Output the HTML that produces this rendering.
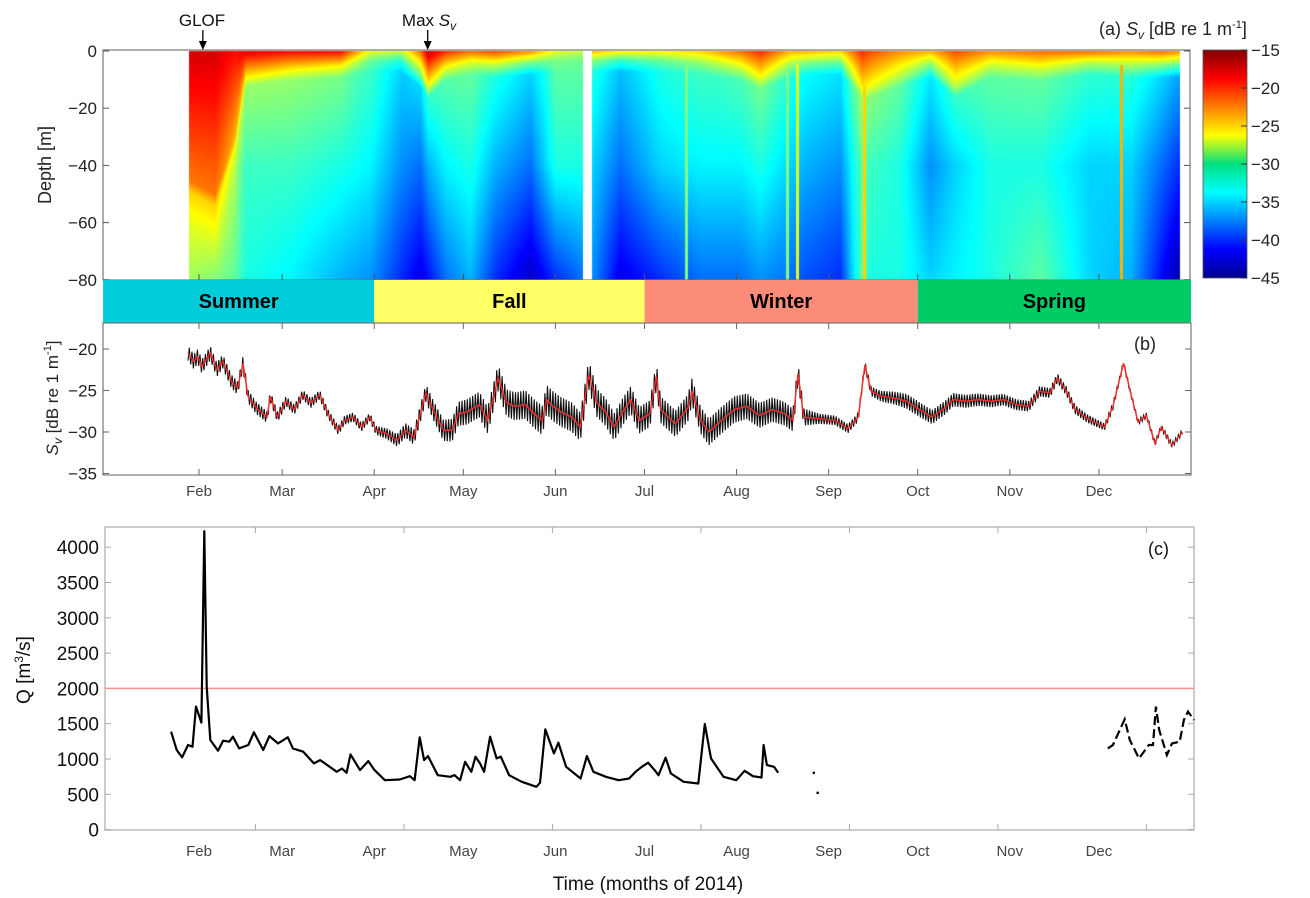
<!DOCTYPE html>
<html><head><meta charset="utf-8">
<style>
html,body{margin:0;padding:0;background:#fff;}
#wrap{position:relative;width:1310px;height:898px;overflow:hidden;font-family:"Liberation Sans",sans-serif;}
canvas,svg{position:absolute;left:0;top:0;}
</style></head>
<body>
<div id="wrap">
<canvas id="hm" width="1310" height="898"></canvas>
<svg id="sv" width="1310" height="898" xmlns="http://www.w3.org/2000/svg">
<defs>
<linearGradient id="jet" x1="0" y1="1" x2="0" y2="0">
<stop offset="0" stop-color="#00008f"/><stop offset="0.125" stop-color="#0000ff"/>
<stop offset="0.375" stop-color="#00ffff"/><stop offset="0.5" stop-color="#00e080"/><stop offset="0.625" stop-color="#ffff00"/>
<stop offset="0.875" stop-color="#ff0000"/><stop offset="1" stop-color="#800000"/>
</linearGradient>
</defs>
</svg>
</div>
<script>
// ---------- data ----------
const monthNames=["Feb","Mar","Apr","May","Jun","Jul","Aug","Sep","Oct","Nov","Dec"];
const monthDays=[31,59,90,120,151,181,212,243,273,304,334];
const seasonNames=["Summer","Fall","Winter","Spring"];
const seasonStart=[-1.3,90,181,273];
const seasonEnd=[90,181,273,365];
const seasonColors=["#00cdd9","#ffff66","#fa8c78","#00cc66"];

// heatmap keyframes (day, surface Sv, surface-layer depth m, mid-depth Sv, bottom Sv)
const hmDays=[27.3,36.4,43,46.5,61.6,78.5,88.6,98.7,105.4,108,113.8,122.2,130.7,142.5,150.9,160,163.3,172.7,186.2,199.7,213.2,219.9,230,235,246.8,254.2,256.9,267,277.1,285.5,297.3,314.2,331,344.5,354.6,361.3];
const hmTop=[-17.5,-17.5,-19,-18,-19,-19,-27,-28,-22,-17,-20,-22,-21,-23,-27,-28,-24,-26,-26,-25,-22,-20,-24,-24,-25,-20,-21,-23,-24,-21,-23,-22,-22,-23,-22,-23];
const hmTopDepth=[45,50,30,8,6,5,3,3,8,12,6,4,5,4,3,3,3,3,3,4,6,9,5,4,4,12,12,8,5,12,5,6,4,5,5,5];
const hmMid=[-27,-27,-29,-32,-32,-33,-34,-37,-38,-36,-34,-33,-36,-38,-33,-33,-35,-38,-35,-34,-34,-33,-35,-36,-37,-31,-32,-33,-37,-35,-33,-33,-35,-35,-38,-40];
const hmBot=[-29,-30,-31,-33,-34,-36,-37,-40,-42,-41,-38,-36,-40,-43,-40,-38,-37,-42,-40,-38,-38,-37,-38,-39,-40,-31,-33,-33,-35,-34,-33,-31,-35,-36,-41,-44];
const gapStart=160.2, gapEnd=163;
const streakDays=[195,229,232.3,255,341.5];
const streakVals=[-30,-30,-27,-25,-24];

// Sv time series (red = smoothed)
const svDays=[27.3,29.2,30.6,32,34.8,37,39,41.9,44,45.8,47.5,50.3,53.9,55,57.4,60.3,63.1,65.9,68.7,71.6,74.4,77.9,80,82.9,85.7,88.5,90.6,94.2,97.7,100.5,103.4,105.5,107.4,109.8,113.3,116.2,118.3,121.1,125.4,128.2,131.7,134.6,137.4,140.9,143.8,146.6,148,150.2,153,156.5,159.4,162.2,165,167.9,170.8,173.6,176.4,179.2,182.8,185,186.4,191.4,195.6,197,199.9,202.7,206.9,211.2,215.5,219.7,224,228.2,231,232.7,234.6,239.6,245.2,249.5,253,255.2,257.3,260.8,265,269.3,273.6,277.8,282.1,284.9,289.2,293.4,297.7,301.9,306.1,310.4,314,317.5,320,323.1,326,330.2,335.9,338.7,342.3,344.4,347.2,350,352.9,355,358.6,362.1];
const svVals=[-20.5,-21.5,-20.9,-22.1,-20.5,-22.5,-21.5,-23.9,-24.7,-21.7,-25.7,-27.1,-28.2,-25.7,-28.2,-26.3,-27.3,-25.5,-26.5,-25.5,-27.8,-29.8,-28.6,-28.2,-29.4,-28.2,-29.8,-30.2,-31,-29.8,-30.6,-27.8,-25.3,-27.3,-29.8,-29.8,-27.8,-27.6,-26.7,-28.6,-23.5,-26.5,-26.9,-26.7,-27.8,-28.6,-26.1,-26.9,-27.6,-28.2,-29.4,-23.1,-26.5,-27.6,-29.4,-27.6,-26.1,-28.6,-27.8,-23.3,-27.3,-29,-27.1,-25.1,-28.6,-30,-28.6,-27.3,-26.9,-28,-27.3,-27.8,-28.6,-22.9,-28.2,-28.4,-28.6,-29.6,-28.2,-21.9,-25.1,-25.7,-25.9,-26.3,-27.3,-28.2,-27.1,-26.1,-26.3,-26.1,-26.3,-26.1,-26.7,-26.9,-25.1,-25.3,-23.5,-25.1,-27.3,-28.4,-29.4,-26.9,-21.7,-24.9,-28.8,-28,-31.4,-29.4,-31.6,-30];
// half-range of raw (black) variability
const ampDays=[27,45,60,90,105,120,150,180,210,230,240,255,270,300,330,345,365];
const ampVals=[0.9,0.8,0.6,0.5,1.0,1.5,1.8,1.6,1.6,1.4,0.6,0.5,0.9,0.7,0.5,0.3,0.3];

// discharge Q
const qDays=[21.6,23.5,25.3,27.3,28.8,30,31.8,32.8,33.6,34.8,37.4,39.1,41.2,42.4,44.5,47.6,49.5,52.6,54.7,57.6,60.9,62.6,66.1,69.7,71.8,77.4,79.1,80.7,82,85.2,88,90.1,93.6,98.6,102,103.6,105.3,106.8,108.1,111.4,115.6,117,118.9,120.6,122.7,124.1,125.6,127,129,131.2,132.6,135.4,139.7,144.6,145.8,147.6,150.5,152,154.6,159.5,161.6,163.8,168,172.3,175.8,178,180.1,182.2,184.4,185.7,188.1,189.9,194.2,199.1,201.3,203.4,207.6,211.9,214.7,217.5,220.4,221.1,222.2,224.6,226];
const qVals=[1387,1127,1022,1198,1174,1742,1515,4227,2026,1269,1117,1259,1245,1316,1150,1198,1378,1127,1325,1221,1307,1150,1103,937,985,819,866,805,1065,843,970,843,700,710,757,700,1307,985,1041,771,748,772,700,961,819,1032,937,819,1316,1008,1032,771,677,606,663,1420,1079,1231,890,724,1041,819,748,700,724,819,890,947,843,771,1018,795,677,653,1496,1008,748,700,833,757,738,1198,914,890,805];
const qDotDays=[238,239.3];
const qDotVals=[805,521];
const qDecDays=[337,338.7,342.7,344.4,347.5,350.8,352.2,353.2,354.3,356.9,358.6,361.2,362.6,364,366];
const qDecVals=[1150,1198,1562,1269,1008,1198,1198,1742,1411,1056,1221,1245,1553,1671,1553];
const qTicks=[0,500,1000,1500,2000,2500,3000,3500,4000];
const qTickDays=[50,100,150,200,250,300,350];
const svTicks=[-20,-25,-30,-35];
const depthTicks=[0,-20,-40,-60,-80];
const cbTicks=[-15,-20,-25,-30,-35,-40,-45];
const threshold=2000;

// ---------- scales ----------
const xOf=d=>199+(d-31)*2.97;
const yA=m=>51+(-m)*2.86;
const yB=v=>349+(-20-v)*8.3;
const yC=q=>829.6-q*0.0706;
const yCb=v=>50+(-15-v)/30*228;

function interp(xs,ys,x){
  if(x<=xs[0])return ys[0];
  for(let i=1;i<xs.length;i++){ if(x<=xs[i]){const t=(x-xs[i-1])/(xs[i]-xs[i-1]);return ys[i-1]+t*(ys[i]-ys[i-1]);} }
  return ys[ys.length-1];
}
const NS="http://www.w3.org/2000/svg";
const svg=document.getElementById('sv');
function el(tag,attrs,parent){const e=document.createElementNS(NS,tag);for(const k in attrs)e.setAttribute(k,attrs[k]);(parent||svg).appendChild(e);return e;}
function txt(s,attrs,parent){const e=el('text',attrs,parent);e.textContent=s;return e;}

// ---------- heatmap ----------
(function(){
  const c=document.getElementById('hm').getContext('2d');
  const x0=Math.ceil(xOf(hmDays[0])), x1=Math.floor(xOf(hmDays[hmDays.length-1]));
  const yt=51,yb=280;
  const img=c.createImageData(x1-x0+1,yb-yt);
  function jet(v){let t=(v+45)/30;t=Math.max(0,Math.min(1,t));
    const cl=a=>Math.max(0,Math.min(1,a));
    return [cl(1.5-Math.abs(4*t-3))*255,cl(1.5-Math.abs(4*t-2))*255,cl(1.5-Math.abs(4*t-1))*255];}
  for(let x=x0;x<=x1;x++){
    const d=31+(x-199)/2.97;
    if(d>gapStart&&d<gapEnd)continue;
    const top=interp(hmDays,hmTop,d),td=interp(hmDays,hmTopDepth,d),mid=interp(hmDays,hmMid,d),bot=interp(hmDays,hmBot,d);
    let sv=null;
    for(let k=0;k<streakDays.length;k++){if(Math.abs(xOf(streakDays[k])-x)<1.6)sv=streakVals[k];}
    const d1=td,d2=Math.min(74,td+4),d3=Math.min(78,Math.max(40,td+15));
    const nodesD=[0,d1,d2,d3,80],nodesV=[top,top+(mid-top)*0.5,Math.max(mid+2,top+(mid-top)*0.8),mid,bot];
    for(let y=yt;y<yb;y++){
      const dep=(y-yt)/2.86;
      let v=interp(nodesD,nodesV,dep);
      if(sv!==null&&dep>td)v=Math.max(v,sv);
      const col=jet(v);const i=((y-yt)*img.width+(x-x0))*4;
      img.data[i]=col[0];img.data[i+1]=col[1];img.data[i+2]=col[2];img.data[i+3]=255;
    }
  }
  c.putImageData(img,x0,yt);
})();

// ---------- panel a axes ----------
const gA=el('g',{});


el('rect',{x:103,y:50,width:1087,height:230,fill:'none',stroke:'#777','stroke-width':1.2},gA);
depthTicks.forEach(t=>{
  el('line',{x1:103,x2:109,y1:yA(t),y2:yA(t),stroke:'#555'},gA);
  el('line',{x1:1184,x2:1190,y1:yA(t),y2:yA(t),stroke:'#555'},gA);
  const l=txt(t===0?'0':'\u2212'+(-t),{x:97,y:yA(t)+6,'font-size':17,'text-anchor':'end',fill:'#222'},gA);
  
  
});
monthDays.forEach(d=>{el('line',{x1:xOf(d),x2:xOf(d),y1:274,y2:280,stroke:'#555'},gA);});
const dl=txt('Depth [m]',{x:0,y:0,'font-size':18,'text-anchor':'middle',fill:'#222',transform:'translate(51,165) rotate(-90)'},gA);


[32.3,108].forEach(dd=>{
  const x=xOf(dd);
  el('line',{x1:x,x2:x,y1:30,y2:42,stroke:'#000','stroke-width':1.3},gA);
  el('path',{d:`M${x-4},41 L${x+4},41 L${x},50 Z`,fill:'#000'},gA);
});
const g1=txt('GLOF',{x:202,y:26,'font-size':17,'text-anchor':'middle',fill:'#111'},gA);


const m1=el('text',{x:429,y:26,'font-size':17,'text-anchor':'middle',fill:'#111'},gA);
m1.innerHTML='Max <tspan font-style="italic">S</tspan><tspan font-size="12" dy="4" font-style="italic">v</tspan>';


const cb=el('rect',{x:1203,y:50,width:44,height:228,fill:'url(#jet)',stroke:'#555','stroke-width':0.8});


cbTicks.forEach(t=>{
  el('line',{x1:1241,x2:1247,y1:yCb(t),y2:yCb(t),stroke:'#333'});
  const l=txt('\u2212'+(-t),{x:1251,y:yCb(t)+6,'font-size':17,fill:'#222'});
  
  
});
const ct=el('text',{x:1099,y:35,'font-size':18,fill:'#222'});
ct.innerHTML='(a) <tspan font-style="italic">S</tspan><tspan font-size="12" dy="4" font-style="italic">v</tspan><tspan dy="-4"> [dB re 1 m</tspan><tspan font-size="11" dy="-7">-1</tspan><tspan dy="7">]</tspan>';



// ---------- season bar ----------
seasonNames.forEach((s,i)=>{
  const x=xOf(seasonStart[i]),w=xOf(seasonEnd[i])-x;
  const r=el('rect',{x:x,y:280,width:w,height:43,fill:seasonColors[i]});
  
  
  txt(s,{x:x+w/2,y:308,'font-size':20,'font-weight':'bold','text-anchor':'middle',fill:'#000'});
});

// ---------- panel b ----------
const gB=el('g',{});


el('rect',{x:103,y:323,width:1088,height:152,fill:'none',stroke:'#777','stroke-width':1.2},gB);
svTicks.forEach(t=>{
  el('line',{x1:103,x2:109,y1:yB(t),y2:yB(t),stroke:'#666'},gB);
  el('line',{x1:1185,x2:1191,y1:yB(t),y2:yB(t),stroke:'#666'},gB);
  txt('\u2212'+(-t),{x:97,y:yB(t)+6,'font-size':17,'text-anchor':'end',fill:'#222'},gB);
});
monthDays.forEach((d,i)=>{
  el('line',{x1:xOf(d),x2:xOf(d),y1:469,y2:475,stroke:'#666'},gB);
  el('line',{x1:xOf(d),x2:xOf(d),y1:323,y2:329,stroke:'#666'},gB);
  txt(monthNames[i],{x:xOf(d),y:496,'font-size':15,'text-anchor':'middle',fill:'#444'},gB);
});
(function(){
  let pts=[],k=0;
  for(let d=svDays[0];d<=svDays[svDays.length-1];d+=0.45,k++){
    const r=interp(svDays,svVals,d),a=interp(ampDays,ampVals,d);
    const v=r+(k%2?a:-a);
    pts.push(xOf(d).toFixed(1)+','+yB(v).toFixed(1));
  }
  const p=el('polyline',{points:pts.join(' '),fill:'none',stroke:'#111','stroke-width':1.1},gB);
  
  
})();
const redPts=svDays.map((d,i)=>xOf(d).toFixed(1)+','+yB(svVals[i]).toFixed(1)).join(' ');
const rl=el('polyline',{points:redPts,fill:'none',stroke:'#ff2a2a','stroke-width':1.4},gB);


txt('(b)',{x:1134,y:350,'font-size':18,fill:'#222'},gB);
const by=el('text',{x:0,y:0,'font-size':17,'text-anchor':'middle',fill:'#222',transform:'translate(58,398) rotate(-90)'},gB);
by.innerHTML='<tspan font-style="italic">S</tspan><tspan font-size="12" dy="4" font-style="italic">v</tspan><tspan dy="-4"> [dB re 1 m</tspan><tspan font-size="11" dy="-7">-1</tspan><tspan dy="7">]</tspan>';



// ---------- panel c ----------
const gC=el('g',{});


el('rect',{x:105,y:527,width:1089,height:303,fill:'none',stroke:'#bbb','stroke-width':1.5},gC);
qTicks.forEach(t=>{
  el('line',{x1:105,x2:111,y1:yC(t),y2:yC(t),stroke:'#aaa'},gC);
  el('line',{x1:1188,x2:1194,y1:yC(t),y2:yC(t),stroke:'#aaa'},gC);
  txt(String(t),{x:99,y:yC(t)+7,'font-size':19,'text-anchor':'end',fill:'#111'},gC);
});
qTickDays.forEach(d=>{
  el('line',{x1:xOf(d),x2:xOf(d),y1:824,y2:830,stroke:'#aaa'},gC);
  el('line',{x1:xOf(d),x2:xOf(d),y1:527,y2:533,stroke:'#aaa'},gC);
});
monthDays.forEach((d,i)=>{txt(monthNames[i],{x:xOf(d),y:856,'font-size':15,'text-anchor':'middle',fill:'#444'},gC);});
const th=el('line',{x1:105,x2:1194,y1:yC(threshold),y2:yC(threshold),stroke:'#ff9090','stroke-width':1.5},gC);


const qp=el('polyline',{points:qDays.map((d,i)=>xOf(d).toFixed(1)+','+yC(qVals[i]).toFixed(1)).join(' '),fill:'none',stroke:'#000','stroke-width':2.2,'stroke-linejoin':'round'},gC);


qDotDays.forEach((d,i)=>{
  const c=el('circle',{cx:xOf(d),cy:yC(qDotVals[i]),r:1.3,fill:'#000'},gC);
  
  
});
const qd=el('polyline',{points:qDecDays.map((d,i)=>xOf(d).toFixed(1)+','+yC(qDecVals[i]).toFixed(1)).join(' '),fill:'none',stroke:'#000','stroke-width':2.2,'stroke-dasharray':'9,4'},gC);


txt('(c)',{x:1148,y:555,'font-size':18,fill:'#111'},gC);
const qy=el('text',{x:0,y:0,'font-size':19,'text-anchor':'middle',fill:'#111',transform:'translate(30,670) rotate(-90)'},gC);
qy.innerHTML='Q [m<tspan font-size="12" dy="-7">3</tspan><tspan dy="7">/s]</tspan>';


const xt=txt('Time (months of 2014)',{x:648,y:890,'font-size':19,'text-anchor':'middle',fill:'#111'},gC);


</script>
</body></html>
